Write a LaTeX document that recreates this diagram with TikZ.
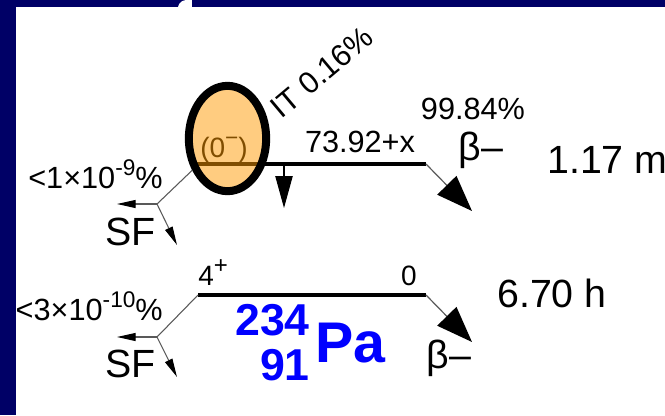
\documentclass[tikz,border=0pt]{standalone}
\usepackage{fontspec}
\setmainfont{Liberation Sans}
\usetikzlibrary{arrows.meta,shapes.geometric}
\definecolor{navy}{RGB}{0,0,102}
\definecolor{isofill}{RGB}{255,204,128}
\definecolor{isobrown}{RGB}{128,77,0}
\definecolor{nucblue}{RGB}{0,0,255}
\newcommand\supr[2]{\raisebox{0.42em}{\fontsize{#1}{#1}\selectfont #2}}

\begin{document}
\begin{tikzpicture}[x=0.75pt,y=-0.75pt,
    lvl/.style={line width=3.4pt},
    dec/.style={draw=black!65,line width=0.9pt,
                -{Triangle[length=27pt,width=20pt,color=black]}},
    sfarr/.style={draw=black!65,line width=0.8pt,
                  -{Triangle[length=14pt,width=6pt,color=black]}},
    txt/.style={font=\fontsize{23}{26}\selectfont,inner sep=0pt},
    big/.style={font=\fontsize{29.5}{32}\selectfont,inner sep=0pt},
    spin/.style={font=\fontsize{21}{24}\selectfont,inner sep=0pt},
    nuc/.style={text=nucblue,inner sep=0pt}]
  % frame
  \useasboundingbox (0,0) rectangle (665,415);
  \fill[navy] (0,0) rectangle (665,415);
  \fill[white] (16,7) rectangle (665,415);
  \fill[white] (186,0) rectangle (192,7);
  \fill[white] (178,7) .. controls (179,2) and (183,0) .. (187,0) -- (187,7) -- cycle;
  % levels
  \coordinate (upL) at (230,164);
  \coordinate (upR) at (426,164);
  \coordinate (loL) at (198,295);
  \coordinate (loR) at (426,295);
  \coordinate (itx) at (284,166);
  \coordinate (itt) at (284,208);
  \coordinate (b1) at (472,211);
  \coordinate (b2) at (472,342);
  \coordinate (j1) at (157,204);
  \coordinate (j2) at (157,337);
  \coordinate (l1) at (117,204);
  \coordinate (l2) at (117,337);
  \coordinate (d1) at (177,245);
  \coordinate (d2) at (177,377);
  \draw[lvl] (upL) -- (upR);
  \draw[lvl] (loL) -- (loR);
  % isomer
  \node[ellipse,fill=isofill,draw=black,line width=6pt,minimum width=58pt,
        minimum height=79pt,inner sep=0pt,
        path picture={\draw[isobrown,line width=3.4pt]
          (path picture bounding box.west) ++(0,25.5) -- ++(100,0);}]
    (iso) at (227.5,138.5) {};
  \node[spin,anchor=base,text=isobrown] (s1) at (224,157) {(0\supr{17}{−})};
  % decays
  \draw[black,line width=0.9pt,-{Triangle[length=24pt,width=13pt]}] (itx) -- (itt);
  \draw[dec] (upR) -- (b1);
  \draw[dec] (loR) -- (b2);
  \draw[draw=black!65,line width=0.8pt] (iso.222) -- (j1);
  \draw[sfarr] (j1) -- (l1);
  \draw[sfarr] (j1) -- (d1);
  \draw[draw=black!65,line width=0.8pt] (loL) -- (j2);
  \draw[sfarr] (j2) -- (l2);
  \draw[sfarr] (j2) -- (d2);
  % labels
  \node[txt,rotate=40] (it) at (322,72) {IT 0.16\%};
  \node[txt] (br) at (473,109) {99.84\%};
  \node[big,anchor=base] (bm1) at (481,160) {β–};
  \node[big,anchor=base west] (hl1) at (547,173) {1.17 m};
  \node[txt,anchor=base] (e1) at (360,152) {73.92+x};
  \node[txt,anchor=base east] (sf1p) at (163,188) {<1×10\supr{17}{-9}\%};
  \node[big,anchor=base west] (sf1) at (105,245) {SF};
  \node[txt,anchor=base east] (sf2p) at (163,320) {<3×10\supr{17}{-10}\%};
  \node[big,anchor=base west] (sf2) at (105,377) {SF};
  \node[spin,anchor=base west] (s2) at (198,285) {4\supr{18}{+}};
  \node[spin,anchor=base east] (s0) at (417,285) {0};
  \node[big,anchor=base west] (hl2) at (497,307) {6.70 h};
  \node[big,anchor=base] (bm2) at (449,368) {β–};
  % nuclide
  \node[nuc,font=\bfseries\fontsize{33.5}{36}\selectfont,anchor=base east] (mass) at (310,335) {234};
  \node[nuc,font=\bfseries\fontsize{33.5}{36}\selectfont,anchor=base east] (chg) at (310,380) {91};
  \node[nuc,font=\bfseries\fontsize{43}{44}\selectfont,anchor=base west] (pa) at (315,362) {Pa};
\end{tikzpicture}
\end{document}
